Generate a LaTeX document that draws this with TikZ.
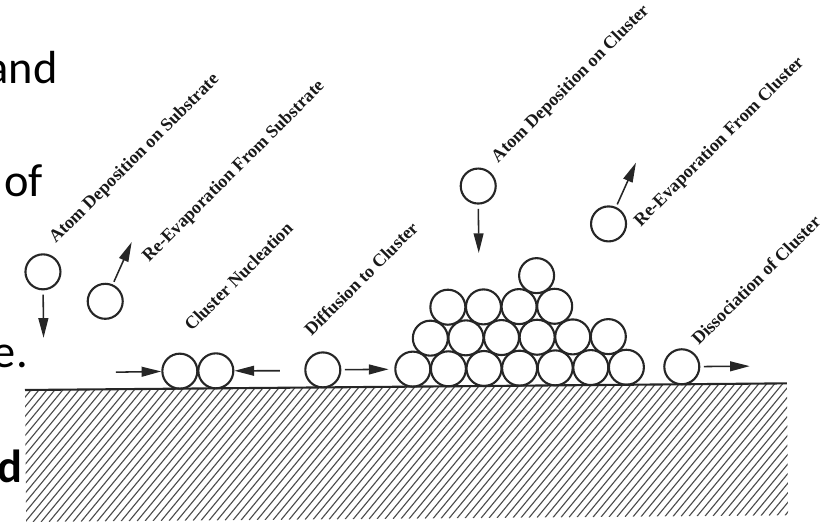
\documentclass[tikz,border=0pt]{standalone}
\usepackage{fontspec}
\setmainfont{Liberation Serif}
\newfontfamily\slidefont{Carlito}
\usetikzlibrary{arrows.meta}

\tikzset{
  atom/.style={circle,draw=black!85,line width=1.5pt,minimum size=0.875cm,inner sep=0pt},
  push/.style={-{Triangle[length=14pt,width=7pt]},line width=1.1pt,draw=black!85},
  lbl/.style={rotate=45,anchor=base west,inner sep=0pt,text=black!90,
    font=\bfseries\fontsize{12.8}{14}\selectfont},
  hatch/.style={draw=black!70,line width=0.8pt},
  slide/.style={anchor=base east,inner sep=0pt,font=\slidefont\fontsize{33}{40}\selectfont}
}

\begin{document}
\begin{tikzpicture}[x=0.025cm,y=-0.025cm]
\useasboundingbox (0,0) rectangle (825,529);

\node[slide] (wand) at (58,83) {and};
\node[slide] (wof) at (43,196) {of};
\node[slide] (we) at (28,367) {e.};
\node[slide,font=\slidefont\bfseries\fontsize{33}{40}\selectfont] (wd) at (23,482) {d};

\begin{scope}[rotate around={0.5:(25,390)}]
% substrate
\begin{scope}
\clip (25,390) rectangle (787,522);
\foreach \x in {-88,-80,...,790}
  \draw[hatch] (\x,522) -- ++(111,-132);
\end{scope}
\draw[line width=1.5pt,black!85] (25,390) -- (787,390);

% the cluster
\foreach \i in {0,...,6} \node[atom] (ca\i) at (413+35.6*\i,372.5) {};
\foreach \i in {0,...,5} \node[atom] (cb\i) at (430.8+35.6*\i,341.7) {};
\foreach \i in {0,...,3} \node[atom] (cc\i) at (448.6+35.6*\i,310.9) {};
\node[atom] (cd) at (537.6,280.1) {};

% single atoms
\node[atom] (subdep) at (44,272) {};
\node[atom] (subevap) at (106,302) {};
\node[atom] (nucl) at (180,372.5) {};
\node[atom] (nucr) at (216,372.5) {};
\node[atom] (diff) at (323,372.5) {};
\node[atom] (clusdep) at (480,190) {};
\node[atom] (clusevap) at (610,229) {};
\node[atom] (dis) at (682,372.5) {};

\coordinate (subdepend) at (44,338);
\coordinate (subevapend) at (133,243);
\coordinate (nucin1) at (116,373);
\coordinate (nucin2) at (280,373);
\coordinate (clusdepend) at (480,257);
\coordinate (clusevapend) at (638,168);
\coordinate (disend) at (750,372.5);

\draw[push,shorten <=3pt] (subdep) -- (subdepend);
\draw[push,shorten <=2pt] (subevap) -- (subevapend);
\draw[push] (nucin1) -- (nucl);
\draw[push] (nucin2) -- (nucr);
\draw[push,shorten <=2.5pt,shorten >=4pt] (diff) -- (ca0);
\draw[push,shorten <=3pt] (clusdep) -- (clusdepend);
\draw[push,shorten <=2pt] (clusevap) -- (clusevapend);
\draw[push,shorten <=2.5pt] (dis) -- (disend);

\node[lbl] (l1) at (57,244.3) {Atom Deposition on Substrate};
\node[lbl] (l2) at (150,264) {Re-Evaporation From Substrate};
\node[lbl] (l3) at (192,333.5) {Cluster Nucleation};
\node[lbl] (l4) at (312,339.6) {Diffusion to Cluster};
\node[lbl] (l5) at (500,167.4) {Atom Deposition on Cluster};
\node[lbl] (l6) at (642,232.7) {Re-Evaporation From Cluster};
\node[lbl] (l7) at (699,352) {Dissociation of Cluster};
\end{scope}
\end{tikzpicture}
\end{document}
